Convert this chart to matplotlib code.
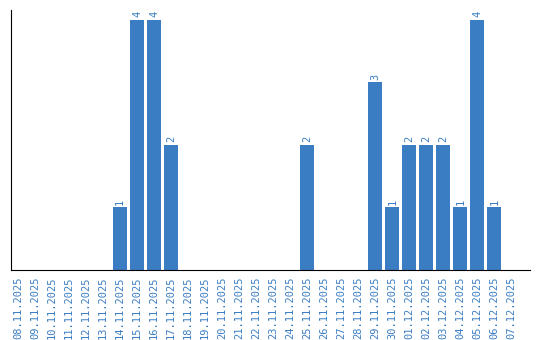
import matplotlib
matplotlib.use("Agg")
import matplotlib.pyplot as plt

# daty i liczby
daty = ["08.11.2025", "09.11.2025", "10.11.2025", "11.11.2025", "12.11.2025",
        "13.11.2025", "14.11.2025", "15.11.2025", "16.11.2025", "17.11.2025",
        "18.11.2025", "19.11.2025", "20.11.2025", "21.11.2025", "22.11.2025",
        "23.11.2025", "24.11.2025", "25.11.2025", "26.11.2025", "27.11.2025",
        "28.11.2025", "29.11.2025", "30.11.2025", "01.12.2025", "02.12.2025",
        "03.12.2025", "04.12.2025", "05.12.2025", "06.12.2025", "07.12.2025"]
wartosci = [0, 0, 0, 0, 0, 0, 1, 4, 4, 2,
            0, 0, 0, 0, 0, 0, 0, 2, 0, 0,
            0, 3, 1, 2, 2, 2, 1, 4, 1, 0]

kolor = "#3a7dc2"

fig = plt.figure(figsize=(5.4, 3.4), dpi=100)
ax = fig.add_axes([0.0204, 0.2059, 0.9611, 0.7647])

x = list(range(len(daty)))
ax.bar(x, wartosci, width=0.82, color=kolor)

for i, v in zip(x, wartosci):
    if v > 0:
        ax.text(i, v + 0.04, str(v), rotation=90, ha="center", va="bottom",
                color=kolor, fontsize=7.5, family="DejaVu Sans Mono")

ax.set_xlim(-0.41, 30.1)
ax.set_ylim(0, 4.16)
ax.set_xticks(x)
ax.set_xticklabels(daty, rotation=90, color=kolor, fontsize=7.5,
                   family="DejaVu Sans Mono")
ax.tick_params(axis="x", length=0, pad=5)
ax.set_yticks([])
for s in ["top", "right"]:
    ax.spines[s].set_visible(False)
ax.spines["left"].set_color("black")
ax.spines["bottom"].set_color("black")

fig.savefig("out.png", dpi=100)
